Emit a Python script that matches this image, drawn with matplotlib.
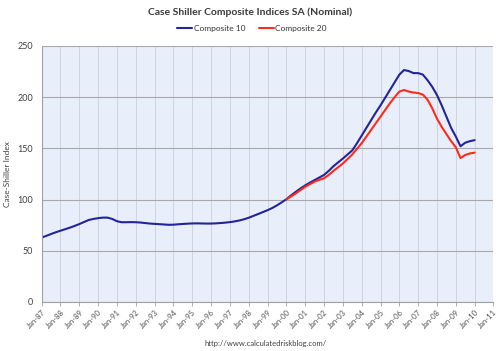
import matplotlib
matplotlib.use('Agg')
import matplotlib.pyplot as plt
import numpy as np

plt.rcParams['font.family'] = ['Lato', 'DejaVu Sans']

# quarterly readings (Jan, Apr, Jul, Oct), last point Jan 2010
c10_start = 1987.0
comp10 = [
    62.8, 64.5, 66.3, 68.0,
    69.5, 71.0, 72.5, 74.2,
    76.0, 78.0, 80.0, 81.0,
    81.8, 82.3, 82.3, 81.0,
    78.8, 77.8, 77.8, 77.9,
    77.8, 77.5, 77.0, 76.5,
    76.2, 75.9, 75.6, 75.3,
    75.4, 75.8, 76.1, 76.4,
    76.6, 76.7, 76.6, 76.5,
    76.5, 76.7, 77.0, 77.4,
    77.9, 78.6, 79.5, 80.7,
    82.2, 84.0, 85.8, 87.7,
    89.6, 91.7, 94.3, 97.2,
    100.3, 104.0, 107.5, 110.8,
    113.8, 116.5, 119.0, 121.5,
    124.0, 128.0, 132.5, 136.3,
    140.0, 144.0, 148.0, 155.0,
    162.5, 170.0, 177.5, 185.0,
    192.0, 199.5, 207.0, 214.5,
    222.0, 226.5, 225.5, 223.5,
    223.5, 222.0, 216.5, 210.0,
    202.0, 192.0, 181.0, 170.0,
    161.5, 152.0, 155.5, 157.0,
    158.0,
]

c20_start = 2000.0
comp20 = [
    100.0, 103.0, 106.0, 109.2,
    112.4, 115.0, 117.5, 119.2,
    120.8, 124.0, 128.0, 131.5,
    135.2, 139.5, 144.0, 149.5,
    155.0, 161.5, 168.0, 174.5,
    181.0, 187.5, 194.0, 200.0,
    205.4, 207.0, 205.5, 204.5,
    204.0, 202.5, 197.5, 189.0,
    179.0, 171.0, 164.0, 157.0,
    151.0, 140.5, 143.5, 145.0,
    145.8,
]

years = list(range(1987, 2012))
year_labels = ['Jan-%02d' % (y % 100) for y in years]
yticks = [0, 50, 100, 150, 200, 250]

x10 = c10_start + np.arange(len(comp10)) / 4.0
x20 = c20_start + np.arange(len(comp20)) / 4.0

fig = plt.figure(figsize=(5.02, 3.51), dpi=100)
ax = fig.add_axes([0.083, 0.140, 0.900, 0.729])
ax.set_facecolor('#e9effa')

ax.plot(x10, comp10, color='#23239a', linewidth=1.5, label='Composite 10', solid_capstyle='round')
ax.plot(x20, comp20, color='#ff2a1a', linewidth=1.5, label='Composite 20', solid_capstyle='round')

ax.set_xlim(1987, 2011)
ax.set_ylim(0, 250)
ax.set_xticks(years)
ax.set_xticklabels(year_labels, rotation=45, ha='right', rotation_mode='anchor', fontsize=5.5, color='#505050')
ax.set_yticks(yticks)
ax.set_yticklabels([str(v) for v in yticks], fontsize=6.5, color='#404040')

ax.grid(axis='y', color='#a8a8a8', linewidth=0.8)
ax.grid(axis='x', color='#cdd5e2', linewidth=0.7)
ax.set_axisbelow(True)
for s in ['top', 'right']:
    ax.spines[s].set_visible(False)
for s in ['left', 'bottom']:
    ax.spines[s].set_color('#a0a0a0')
    ax.spines[s].set_linewidth(0.8)
ax.tick_params(axis='both', length=3, width=0.6, color='#a0a0a0', pad=2)
ax.tick_params(axis='y', length=0, pad=6)

ax.set_ylabel('Case-Shiller Index', fontsize=6, color='#404040', labelpad=5)

fig.text(0.498, 0.918 + 0.047, 'Case Shiller Composite Indices SA (Nominal)', ha='center', va='center',
         fontsize=7.5, fontweight='bold', color='#3a3a3a')
fig.legend(loc='center', bbox_to_anchor=(0.502, 0.918), ncol=2, frameon=False, fontsize=6,
           handlelength=1.8, handletextpad=0.2, columnspacing=1.6, labelcolor='#333333')
fig.text(0.53, 0.022, 'http://www.calculatedriskblog.com/', ha='center', va='center',
         fontsize=5.5, color='#404040')

fig.savefig('out.png', dpi=100)
